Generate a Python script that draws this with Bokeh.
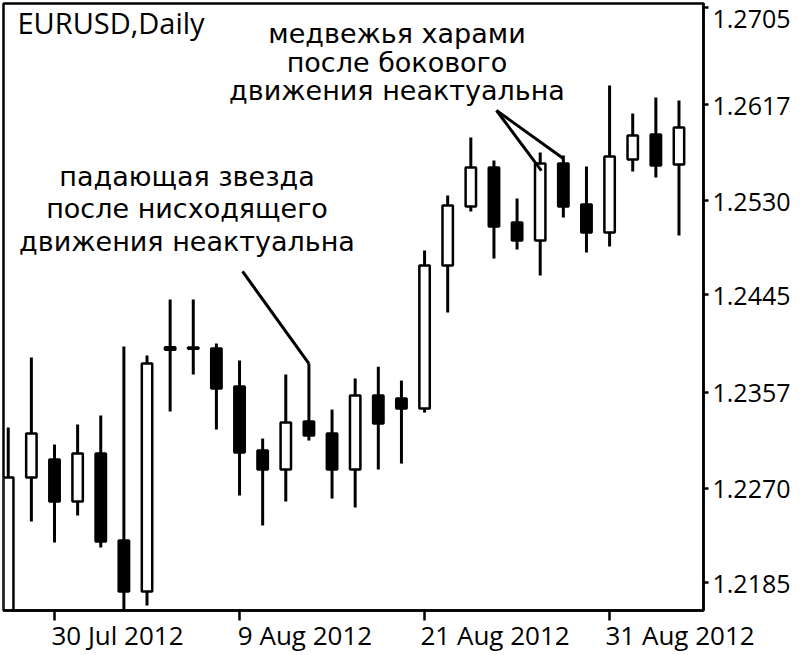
from bokeh.plotting import figure
from bokeh.models import ColumnDataSource, FixedTicker, Range1d, LinearAxis, Label
from bokeh.embed import file_html
from bokeh.resources import INLINE
from datetime import date

# ---- data (EURUSD daily) ----
dates = ["2012-07-26", "2012-07-27", "2012-07-30", "2012-07-31", "2012-08-01", "2012-08-02",
         "2012-08-03", "2012-08-06", "2012-08-07", "2012-08-08", "2012-08-09", "2012-08-10",
         "2012-08-13", "2012-08-14", "2012-08-15", "2012-08-16", "2012-08-17", "2012-08-20",
         "2012-08-21", "2012-08-22", "2012-08-23", "2012-08-24", "2012-08-27", "2012-08-28",
         "2012-08-29", "2012-08-30", "2012-08-31", "2012-09-03", "2012-09-04", "2012-09-05"]
opens = [1.21500, 1.22800, 1.22962, 1.22582, 1.23016, 1.22230, 1.21769, 1.23977, 1.23962, 1.23965,
         1.23621, 1.23043, 1.22871, 1.23305, 1.23197, 1.22871, 1.23540, 1.23513, 1.23422, 1.24715,
         1.25248, 1.25600, 1.25103, 1.24941, 1.25637, 1.25266, 1.25013, 1.25673, 1.25899, 1.25627]
highs = [1.23251, 1.23883, 1.23097, 1.23278, 1.23359, 1.23983, 1.23901, 1.24408, 1.24408, 1.24010,
         1.23856, 1.23151, 1.23730, 1.23829, 1.23413, 1.23694, 1.23800, 1.23675, 1.24850, 1.25347,
         1.25872, 1.25664, 1.25320, 1.25736, 1.25709, 1.25609, 1.26341, 1.26088, 1.26233, 1.26206]
lows = [1.21400, 1.22401, 1.22211, 1.22455, 1.22166, 1.21330, 1.21642, 1.23395, 1.23730, 1.23233,
        1.22636, 1.22365, 1.22582, 1.23133, 1.22609, 1.22528, 1.22871, 1.22925, 1.23386, 1.24290,
        1.25203, 1.24778, 1.24859, 1.24624, 1.25148, 1.24832, 1.24886, 1.25564, 1.25510, 1.24986]
closes = [1.22799, 1.23197, 1.22582, 1.23016, 1.22221, 1.21769, 1.23829, 1.23953, 1.23975, 1.23603,
          1.23025, 1.22871, 1.23296, 1.23178, 1.22871, 1.23540, 1.23287, 1.23422, 1.24715, 1.25257,
          1.25600, 1.25067, 1.24941, 1.25637, 1.25248, 1.25013, 1.25700, 1.25890, 1.25618, 1.25962]

price_ticks = [1.2185, 1.2270, 1.2357, 1.2445, 1.2530, 1.2617, 1.2705]
date_ticks = ["2012-07-30", "2012-08-09", "2012-08-21", "2012-08-31"]

title_text = "EURUSD,Daily"
note_harami = ["медвежья харами", "после бокового", "движения неактуальна"]
note_star = ["падающая звезда", "после нисходящего", "движения неактуальна"]

# ---- derived ----
idx = list(range(len(dates)))
tops = [max(o, c) for o, c in zip(opens, closes)]
bots = [min(o, c) for o, c in zip(opens, closes)]
fills = ["white" if c >= o else "black" for o, c in zip(opens, closes)]
src = ColumnDataSource(dict(x=idx, o=opens, h=highs, l=lows, c=closes, top=tops, bot=bots, fill=fills))

def fmt(d):
    dt = date.fromisoformat(d)
    return f"{dt.day} {dt.strftime('%b')} {dt.year}"

tick_idx = [dates.index(d) for d in date_ticks]
tick_txt = [fmt(d) for d in date_ticks]

FONT = "Open Sans"
FRAME_W = 700
X0, X1 = -0.205, 30.06
PPU = FRAME_W / (X1 - X0)          # pixels per candle
YMIN, YMAX = 1.21597, 1.27083
p = figure(frame_width=FRAME_W, frame_height=607, output_backend="svg", toolbar_location=None,
           x_range=Range1d(X0, X1), y_range=Range1d(YMIN, YMAX),
           x_axis_location=None, y_axis_location=None,
           min_border_left=3, min_border_top=3, min_border_right=87, min_border_bottom=44)
p.background_fill_color = "white"
p.border_fill_color = "white"
p.outline_line_color = "black"
p.outline_line_width = 2.5
p.xgrid.visible = False
p.ygrid.visible = False

# right price axis (the top label is pushed down inside the canvas, as in the original)
top_tick = price_ticks[-1]
yax = LinearAxis(ticker=FixedTicker(ticks=price_ticks),
                 major_label_overrides={t: (f"{t:.4f}" if t != top_tick else f"{t:.4f}\n")
                                        for t in price_ticks})
yax.axis_line_width = 2.5
yax.major_tick_line_width = 2.5
yax.major_tick_in = 0
yax.major_tick_out = 5
yax.minor_tick_out = 0
yax.minor_tick_in = 0
yax.major_label_standoff = 4
yax.major_label_text_font = FONT
yax.major_label_text_font_size = "25px"
yax.major_label_text_color = "black"
p.add_layout(yax, "right")

# bottom date axis: tick marks on one axis ...
xax = LinearAxis(ticker=FixedTicker(ticks=tick_idx),
                 major_label_overrides={i: "" for i in tick_idx})
xax.axis_line_width = 2.5
xax.major_tick_line_width = 2.5
xax.major_tick_in = 0
xax.major_tick_out = 10
xax.minor_tick_out = 0
xax.minor_tick_in = 0
xax.major_label_standoff = 0
xax.major_label_text_font_size = "1px"
p.add_layout(xax, "below")

# ... and the date labels, which start at their tick (left aligned, as in the original)
label_half_w = [66, 68.5, 73.5, 73.5]   # half widths of the labels in pixels (layout only)
lab_pos = [i + (hw - 3) / PPU for i, hw in zip(tick_idx, label_half_w)]
xlab = LinearAxis(ticker=FixedTicker(ticks=lab_pos),
                  major_label_overrides={pos: t for pos, t in zip(lab_pos, tick_txt)})
xlab.axis_line_color = None
xlab.major_tick_line_color = None
xlab.minor_tick_line_color = None
xlab.major_tick_in = 0
xlab.major_tick_out = 0
xlab.minor_tick_out = 0
xlab.minor_tick_in = 0
xlab.major_label_standoff = -4
xlab.major_label_text_font = FONT
xlab.major_label_text_font_size = "26px"
xlab.major_label_text_color = "black"
p.add_layout(xlab, "below")

# candles
p.segment(x0="x", y0="l", x1="x", y1="h", source=src, line_color="black", line_width=3)
p.vbar(x="x", top="top", bottom="bot", width=0.45, source=src,
       fill_color="fill", line_color="black", line_width=2.5)

# annotation pointer lines
star_i = 13
p.segment(x0=[10.13], y0=[1.24661], x1=[star_i], y1=[highs[star_i]], line_color="black", line_width=3)
p.segment(x0=[21.11, 21.11], y0=[1.26116, 1.26116], x1=[23.05, 24.0], y1=[1.25573, 1.25682],
          line_color="black", line_width=3)

# texts
p.add_layout(Label(x=14, y=588, x_units="screen", y_units="screen", text=title_text,
                   text_font=FONT, text_font_size="29px", text_color="black",
                   text_baseline="alphabetic", text_align="left"))
for t, yb in zip(note_harami, [577, 548, 520]):
    p.add_layout(Label(x=393.5, y=yb, x_units="screen", y_units="screen", text=t,
                       text_font="DejaVu Sans", text_font_size="27px", text_color="black",
                       text_baseline="alphabetic", text_align="center"))
for t, yb in zip(note_star, [434, 402, 369]):
    p.add_layout(Label(x=183.5, y=yb, x_units="screen", y_units="screen", text=t,
                       text_font="DejaVu Sans", text_font_size="27px", text_color="black",
                       text_baseline="alphabetic", text_align="center"))

open("out.html", "w").write(file_html(p, INLINE))
